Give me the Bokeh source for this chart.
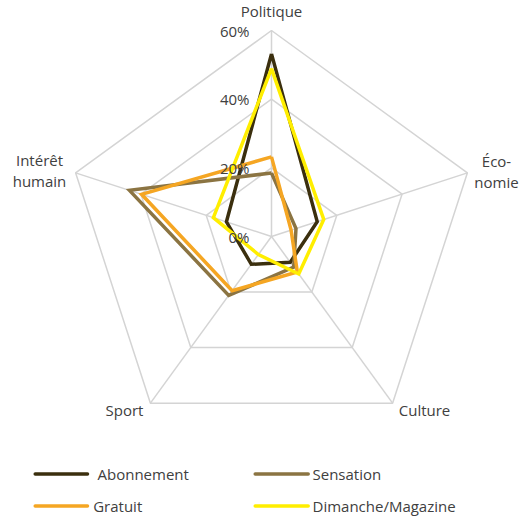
import numpy as np
from bokeh.plotting import figure
from bokeh.models import Range1d
from bokeh.core.properties import value
from bokeh.embed import file_html
from bokeh.resources import INLINE

# ---- data ----
categories = ["Politique", "Éco-\nnomie", "Culture", "Sport", "Intérêt\nhumain"]
series_names = ["Abonnement", "Sensation", "Gratuit", "Dimanche/Magazine"]
abonnement = [53.2, 14.0, 9.3, 10.0, 13.8]
sensation = [18.5, 7.5, 11.0, 21.2, 43.5]
gratuit = [23.2, 6.0, 12.8, 19.5, 39.8]
dimanche = [48.9, 16.0, 13.5, 6.5, 17.8]
tick_values = [0, 20, 40, 60]
tick_labels = ["0%", "20%", "40%", "60%"]

colors = ["#3B2F0E", "#8B7442", "#F5A623", "#FFEE00"]
FONT = value("Open Sans")
TXT = "#404040"

FW, FH = 519, 517
OX, OY = 4, 6


def X(xr):
    return xr - OX


def Y(yr):
    return FH - (yr - OY)


p = figure(width=FW, height=FH, x_range=Range1d(0, FW), y_range=Range1d(0, FH),
           output_backend="svg", toolbar_location=None, min_border=0)
p.axis.visible = False
p.grid.visible = False
p.outline_line_color = None
p.background_fill_color = "white"

cx, cy = X(275.0), Y(242.0)
rmax = 206.0
vmax = 60.0
n = len(categories)
angles = np.deg2rad(90 - 72 * np.arange(n))


def pt(vals):
    r = np.array(vals, dtype=float) / vmax * rmax
    return list(cx + r * np.cos(angles)), list(cy + r * np.sin(angles))


grid_col = "#D4D4D4"
for t in tick_values[1:]:
    xs, ys = pt([t] * n)
    p.line(xs + [xs[0]], ys + [ys[0]], line_color=grid_col, line_width=1.5)
for a in angles:
    p.line([cx, cx + rmax * np.cos(a)], [cy, cy + rmax * np.sin(a)],
           line_color=grid_col, line_width=1.5)

for vals, col in zip([abonnement, sensation, gratuit, dimanche], colors):
    xs, ys = pt(vals)
    p.line(xs + [xs[0]], ys + [ys[0]], line_color=col, line_width=3.5,
           line_join="miter")

# tick labels along the top axis
tx = [X(253)] * len(tick_values)
ty = [cy + v / vmax * rmax for v in tick_values]
p.text(tx, ty, text=tick_labels, text_align="right", text_baseline="middle",
       text_font=FONT, text_font_size="15px", text_color=TXT)

# category labels (reference pixel positions of first line centre)
lab_x = [275, 500, 428, 128, 43]
lab_y = [16, 166.5, 415, 415, 165.5]
for lx, ly, txt in zip(lab_x, lab_y, categories):
    for i, ln in enumerate(txt.split("\n")):
        p.text([X(lx)], [Y(ly + i * 21)], text=[ln], text_align="center",
               text_baseline="middle", text_font=FONT, text_font_size="15px",
               text_color=TXT)

# legend
leg_rows_y = [479.5, 511.5]
leg_cols = [(38.7, 91.0), (258.7, 311.7)]
leg_text_x = [101, 316, 96.7, 316]
for i, (name, col) in enumerate(zip(series_names, colors)):
    r, c = divmod(i, 2)
    x0, x1 = leg_cols[c]
    y = Y(leg_rows_y[r])
    p.line([X(x0), X(x1)], [y, y], line_color=col, line_width=3.5, line_cap="round")
    p.text([X(leg_text_x[i])], [y], text=[name], text_align="left",
           text_baseline="middle", text_font=FONT, text_font_size="15px",
           text_color=TXT)

open("out.html", "w").write(file_html(p, INLINE))
